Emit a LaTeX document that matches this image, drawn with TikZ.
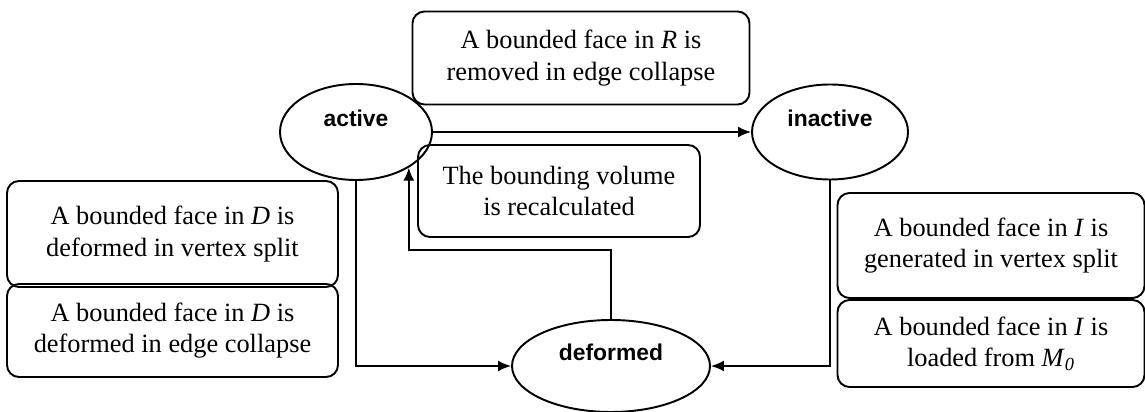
\documentclass[tikz,border=0pt]{standalone}
\usepackage{fontspec}
\usepackage{tikz}
\usetikzlibrary{arrows.meta, shapes.geometric}
\setmainfont{Liberation Serif}
\setsansfont{Liberation Sans}

\begin{document}
\begin{tikzpicture}[
		note/.style={draw, rectangle, rounded corners=0.24cm, line width=1.1pt, align=center, font=\fontsize{15}{17.8}\selectfont},
		state/.style={draw, ellipse, line width=1.1pt, font=\sffamily\bfseries\fontsize{13}{15}\selectfont, text height=0.3cm, text depth=0.5cm},
		arrow/.style={draw, line width=1.1pt, -{Latex[length=2.6mm,width=2.2mm]}}
	]
	\useasboundingbox (0, 0) rectangle (22.9, -8.24);

	% states
	\node[state, minimum width=3.04cm, minimum height=1.92cm] (active) at (7.12, -2.64) {active};
	\node[state, minimum width=3.12cm, minimum height=1.9cm] (inactive) at (16.6, -2.64) {inactive};
	\node[state, minimum width=3.96cm, minimum height=1.84cm] (deformed) at (12.22, -7.32) {deformed};

	% notes
	\node[note, minimum width=6.74cm, minimum height=1.86cm] (removed) at (11.62, -1.16) {A bounded face in \textit{R} is\\removed in edge collapse};
	\node[note, minimum width=5.64cm, minimum height=1.84cm] (recalc) at (11.18, -3.82) {The bounding volume\\is recalculated};
	\node[note, minimum width=6.62cm, minimum height=2.12cm] (def-vs) at (3.45, -4.68) {A bounded face in \textit{D} is\\deformed in vertex split};
	\node[note, minimum width=6.62cm, minimum height=1.86cm] (def-ec) at (3.45, -6.61) {A bounded face in \textit{D} is\\deformed in edge collapse};
	\node[note, minimum width=6.14cm, minimum height=2.1cm] (gen-vs) at (19.82, -4.91) {A bounded face in \textit{I} is\\generated in vertex split};
	\node[note, minimum width=6.14cm, minimum height=1.74cm] (loaded) at (19.82, -6.87) {A bounded face in \textit{I} is\\loaded from \textit{M}\textsubscript{\textit{0}}};

	% transitions
	\draw[arrow] (active.east) -- (inactive.west);
	\draw[arrow] (deformed.north) -- ++(0, 1.38) -| (active.-34);
	\draw[arrow] (active.south) |- (deformed.west);
	\draw[arrow] (inactive.south) |- (deformed.east);

\end{tikzpicture}
\end{document}
